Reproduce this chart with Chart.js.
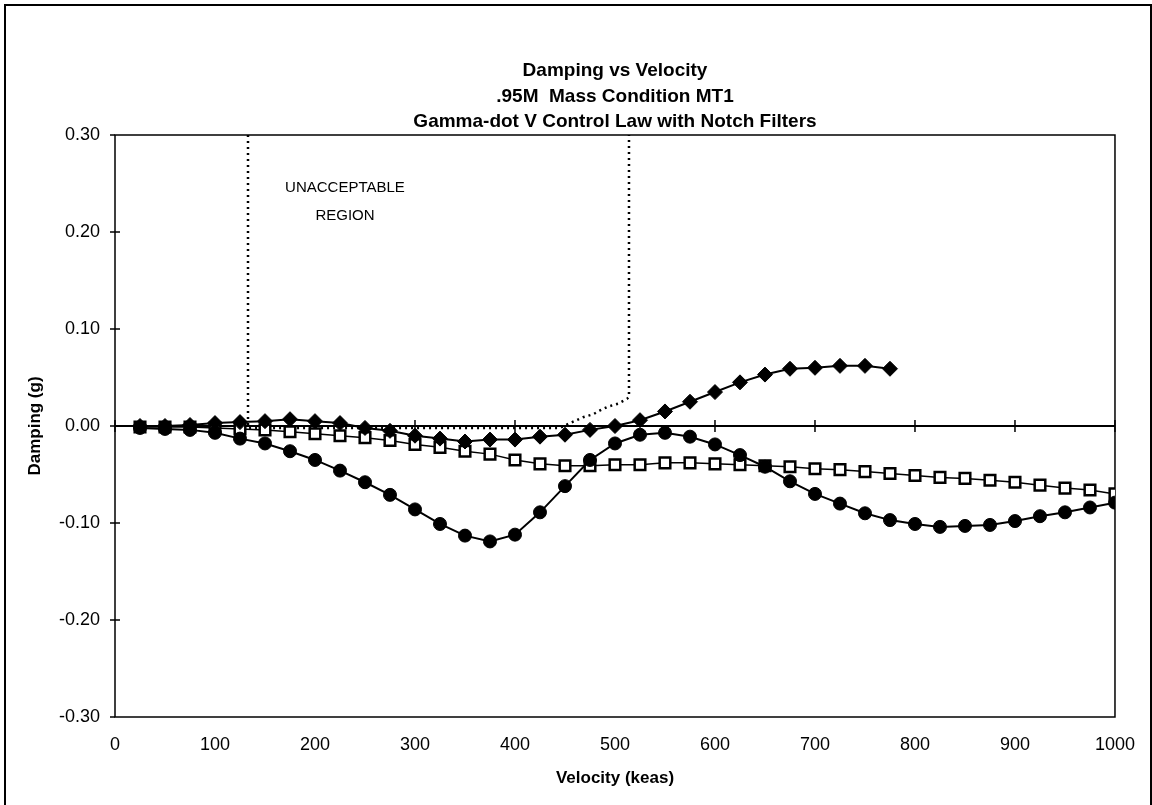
<!DOCTYPE html>
<html>
<head>
<meta charset="utf-8">
<script src="https://cdn.jsdelivr.net/npm/chart.js@4/dist/chart.umd.min.js"></script>
<style>
  html, body { margin: 0; padding: 0; background: #fff; }
  #wrap { position: relative; width: 1152px; height: 805px; overflow: hidden; }
  #frame { position: absolute; left: 4px; top: 4px; width: 1144px; height: 830px; border: 2px solid #000; pointer-events: none; }
  canvas { position: absolute; left: 0; top: 0; }
</style>
</head>
<body>
<div id="wrap">
  <canvas id="c" width="1152" height="805"></canvas>
  <div id="frame"></div>
</div>
<script>
// ---- data ----
const titleLines = ["Damping vs Velocity", ".95M  Mass Condition MT1", "Gamma-dot V Control Law with Notch Filters"];
const xAxisTitle = "Velocity (keas)";
const yAxisTitle = "Damping (g)";
const regionLabel = ["UNACCEPTABLE", "REGION"];

const velocity = [25,50,75,100,125,150,175,200,225,250,275,300,325,350,375,400,425,450,475,500,
                  525,550,575,600,625,650,675,700,725,750,775,800,825,850,875,900,925,950,975,1000];
const dampingCircle = [-0.002,-0.003,-0.004,-0.007,-0.013,-0.018,-0.026,-0.035,-0.046,-0.058,
                       -0.071,-0.086,-0.101,-0.113,-0.119,-0.112,-0.089,-0.062,-0.035,-0.018,
                       -0.009,-0.007,-0.011,-0.019,-0.030,-0.042,-0.057,-0.070,-0.080,-0.090,
                       -0.097,-0.101,-0.104,-0.103,-0.102,-0.098,-0.093,-0.089,-0.084,-0.079];
const dampingSquare = [-0.001,-0.001,-0.001,-0.002,-0.003,-0.004,-0.006,-0.008,-0.010,-0.012,
                       -0.015,-0.019,-0.022,-0.026,-0.029,-0.035,-0.039,-0.041,-0.041,-0.040,
                       -0.040,-0.038,-0.038,-0.039,-0.040,-0.041,-0.042,-0.044,-0.045,-0.047,
                       -0.049,-0.051,-0.053,-0.054,-0.056,-0.058,-0.061,-0.064,-0.066,-0.070];
const velocityDiamond = [25,50,75,100,125,150,175,200,225,250,275,300,325,350,375,400,425,450,475,500,
                         525,550,575,600,625,650,675,700,725,750,775];
const dampingDiamond = [0.000,0.000,0.001,0.003,0.004,0.005,0.007,0.005,0.003,-0.002,
                        -0.005,-0.010,-0.013,-0.016,-0.014,-0.014,-0.011,-0.009,-0.004,0.000,
                        0.006,0.015,0.025,0.035,0.045,0.053,0.059,0.060,0.062,0.062,0.059];
const boundaryX = [133,133,445,455,468,478,485,493,503,512,514,514];
const boundaryY = [0.30,-0.002,-0.002,0.003,0.009,0.012,0.016,0.020,0.023,0.028,0.030,0.30];
const regionLabelPos = { x: 230, y: [0.245, 0.217] };

const xTicks = [0,100,200,300,400,500,600,700,800,900,1000];
const yTicks = [-0.30,-0.20,-0.10,0.00,0.10,0.20,0.30];

const FONT = "'Liberation Sans', Arial, sans-serif";
const pts = (xs, ys) => xs.map((v, i) => ({ x: v, y: ys[i] }));

const decor = {
  id: 'decor',
  afterLayout(chart) {
    if (chart.titleBlock) {
      chart.titleBlock.left = chart.chartArea.left;
      chart.titleBlock.right = chart.chartArea.right;
    }
  },
  beforeDatasetsDraw(chart) {
    const { ctx, chartArea: a, scales: { x, y } } = chart;
    ctx.save();
    ctx.strokeStyle = '#000';
    ctx.lineWidth = 1.5;
    ctx.strokeRect(a.left, a.top, a.right - a.left, a.bottom - a.top);
    const y0 = y.getPixelForValue(0);
    ctx.lineWidth = 2;
    ctx.beginPath();
    ctx.moveTo(a.left, y0); ctx.lineTo(a.right, y0);
    ctx.stroke();
    ctx.lineWidth = 1.5;
    ctx.beginPath();
    xTicks.forEach(v => { const px = x.getPixelForValue(v); ctx.moveTo(px, y0 - 6); ctx.lineTo(px, y0 + 6); });
    yTicks.forEach(v => { const py = y.getPixelForValue(v); ctx.moveTo(a.left - 5, py); ctx.lineTo(a.left + (Math.abs(v) > 0.25 ? 0 : 5), py); });
    ctx.stroke();
    ctx.fillStyle = '#000';
    ctx.font = '15px ' + FONT;
    ctx.textAlign = 'center';
    ctx.textBaseline = 'middle';
    regionLabel.forEach((t, i) => ctx.fillText(t, x.getPixelForValue(regionLabelPos.x), y.getPixelForValue(regionLabelPos.y[i])));
    ctx.restore();
  }
};

new Chart(document.getElementById('c'), {
  type: 'scatter',
  data: {
    datasets: [
      { label: 'diamond', data: pts(velocityDiamond, dampingDiamond), showLine: true, order: 0,
        borderColor: '#000', borderWidth: 2, pointStyle: 'rectRot', pointRadius: 7.5,
        pointBackgroundColor: '#000', pointBorderColor: '#000', pointBorderWidth: 1 },
      { label: 'circle', data: pts(velocity, dampingCircle), showLine: true, order: 1,
        borderColor: '#000', borderWidth: 2, pointStyle: 'circle', pointRadius: 6.5,
        pointBackgroundColor: '#000', pointBorderColor: '#000', pointBorderWidth: 1 },
      { label: 'square', data: pts(velocity, dampingSquare), showLine: true, order: 2,
        borderColor: '#000', borderWidth: 1.5, pointStyle: 'rect', pointRadius: 7.5,
        pointBackgroundColor: '#fff', pointBorderColor: '#000', pointBorderWidth: 2.5 },
      { label: 'boundary', data: pts(boundaryX, boundaryY), showLine: true, order: 3,
        borderColor: '#000', borderWidth: 2.5, borderDash: [2, 4], pointRadius: 0 }
    ]
  },
  options: {
    responsive: false,
    animation: false,
    layout: { padding: { left: 5, right: 37, top: 0, bottom: 0 } },
    plugins: {
      legend: { display: false },
      tooltip: { enabled: false },
      title: {
        display: true, text: titleLines, color: '#000',
        font: { family: FONT, size: 19, weight: 'bold', lineHeight: 25.5 / 19 },
        padding: { top: 58.5, bottom: 0 }
      }
    },
    scales: {
      x: {
        type: 'linear', min: 0, max: 1000,
        afterFit: s => { s.height = 88; },
        afterBuildTicks: s => { s.ticks = xTicks.map(v => ({ value: v })); },
        grid: { display: false, drawTicks: false, tickLength: 0 }, border: { display: false },
        ticks: { color: '#000', font: { family: FONT, size: 18 }, padding: 17, maxRotation: 0, callback: v => String(v) },
        title: { display: true, text: xAxisTitle, color: '#000', font: { family: FONT, size: 17, weight: 'bold' }, padding: { top: 0, bottom: 16 } }
      },
      y: {
        type: 'linear', min: -0.3, max: 0.3,
        afterFit: s => { s.width = 110; },
        afterBuildTicks: s => { s.ticks = yTicks.map(v => ({ value: v })); },
        grid: { display: false, drawTicks: false, tickLength: 0 }, border: { display: false },
        ticks: { color: '#000', font: { family: FONT, size: 18 }, padding: 15, callback: v => Number(v).toFixed(2) },
        title: { display: true, text: yAxisTitle, color: '#000', font: { family: FONT, size: 17, weight: 'bold' }, padding: { top: 20, bottom: 0 } }
      }
    }
  },
  plugins: [decor]
});
</script>
</body>
</html>
